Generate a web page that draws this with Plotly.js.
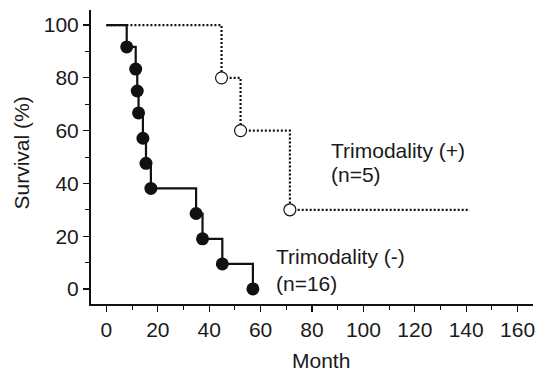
<!DOCTYPE html>
<html><head><meta charset="utf-8">
<script src="https://cdn.plot.ly/plotly-3.0.1.min.js"></script>
<style>html,body{margin:0;padding:0;background:#fff;}#chart{width:541px;height:372px;}</style>
</head><body><div id="chart"></div>
<script>
// Trimodality (-) n=16 : event times (months) and survival (%)
const negMonths = [0, 7.9, 11.4, 12.0, 12.5, 14.2, 15.4, 17.3, 34.9, 37.4, 45.1, 57.0];
const negSurv   = [100, 91.7, 83.3, 75.0, 66.7, 57.1, 47.6, 38.1, 28.6, 19.0, 9.5, 0];
// Trimodality (+) n=5
const posMonths = [0, 44.8, 52.2, 71.4, 141.4];
const posSurv   = [100, 80, 60, 30, 30];
const posEventMonths = [44.8, 52.2, 71.4];
const posEventSurv   = [80, 60, 30];
const xTicks = [0, 20, 40, 60, 80, 100, 120, 140, 160];
const yTicks = [0, 20, 40, 60, 80, 100];
const labelPos = ['Trimodality (+)', '(n=5)'];
const labelNeg = ['Trimodality (-)', '(n=16)'];
const xTitle = 'Month';
const yTitle = 'Survival (%)';

const font = {family: 'Liberation Sans, Arial, sans-serif', size: 21, color: '#1a1a1a'};

const traces = [
  {x: posMonths, y: posSurv, mode: 'lines', line: {shape: 'hv', color: '#111', width: 2.2, dash: '2px,2px'}, hoverinfo: 'none'},
  {x: negMonths, y: negSurv, mode: 'lines', line: {shape: 'hv', color: '#111', width: 2.2}, hoverinfo: 'none'},
  {x: negMonths.slice(1), y: negSurv.slice(1), mode: 'markers', marker: {symbol: 'circle', size: 13, color: '#111', line: {width: 0}}, hoverinfo: 'none'},
  {x: posEventMonths, y: posEventSurv, mode: 'markers', marker: {symbol: 'circle', size: 12, color: '#fff', line: {width: 1.2, color: '#111'}}, hoverinfo: 'none'}
];

function ann(x, y, text) {
  return {x: x, y: y, xref: 'x', yref: 'y', xanchor: 'left', yanchor: 'middle', align: 'left', showarrow: false, text: text, font: font};
}

const layout = {
  width: 541, height: 372,
  margin: {l: 91, r: 8, t: 10, b: 68},
  paper_bgcolor: '#fff', plot_bgcolor: '#fff',
  showlegend: false,
  font: font,
  xaxis: {
    range: [-6, 166], tickvals: xTicks, ticktext: xTicks.map(String),
    showline: true, linecolor: '#111', linewidth: 2, mirror: false,
    ticks: 'outside', ticklen: 6, tickwidth: 1.2, tickcolor: '#111',
    minor: {tickvals: [10, 30, 50, 70, 90, 110, 130, 150], ticks: 'outside', ticklen: 4, tickwidth: 1, tickcolor: '#111'},
    showgrid: false, zeroline: false,
    tickfont: font
  },
  yaxis: {
    range: [-5.7, 105.7], tickvals: yTicks, ticktext: yTicks.map(String),
    showline: true, linecolor: '#111', linewidth: 2,
    ticks: 'outside', ticklen: 6, tickwidth: 1.2, tickcolor: '#111',
    minor: {tickvals: [10, 30, 50, 70, 90], ticks: 'outside', ticklen: 4, tickwidth: 1, tickcolor: '#111'},
    showgrid: false, zeroline: false,
    tickfont: font
  },
  annotations: [
    ann(86.6, 52.6, labelPos[0]),
    ann(86.6, 43.2, labelPos[1]),
    ann(65.2, 12.2, labelNeg[0]),
    ann(65.2, 2.2, labelNeg[1]),
    {x: 0.52, y: -0.192, xref: 'paper', yref: 'paper', xanchor: 'center', yanchor: 'middle', showarrow: false, text: xTitle, font: font},
    {x: -0.157, y: 0.514, xref: 'paper', yref: 'paper', xanchor: 'center', yanchor: 'middle', showarrow: false, text: yTitle, textangle: -90, font: font}
  ]
};

Plotly.newPlot('chart', traces, layout, {staticPlot: true, displayModeBar: false});
</script></body></html>
